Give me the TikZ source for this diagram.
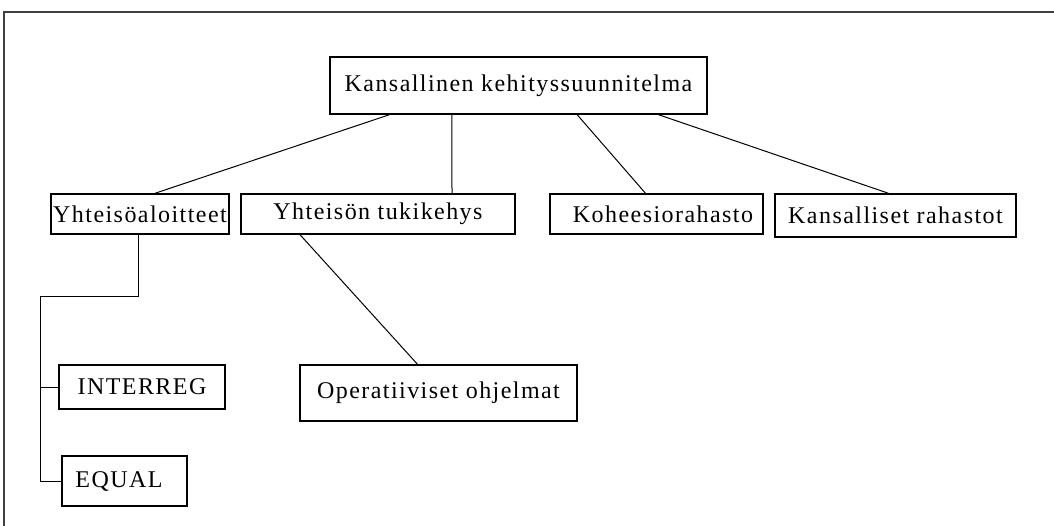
\documentclass[tikz,border=0pt]{standalone}
\usepackage{fontspec}
\setmainfont[LetterSpace=6]{Liberation Serif}
\usetikzlibrary{calc}

\begin{document}
\begin{tikzpicture}[x=1pt, y=-1pt,
        laatikko/.style={draw, line width=1.4pt, inner sep=0pt,
            font=\fontsize{24}{28}\selectfont},
        viiva/.style={line width=1pt}]
    \useasboundingbox (0,0) rectangle (1054,526);

    % kehys
    \draw[line width=2.4pt, black!75] (4,526) -- (4,12) -- (1054,12);

    % ylin taso
    \node[laatikko, minimum width=377pt, minimum height=57pt] (kehitys)
        at (518.5,85.5) {Kansallinen kehityssuunnitelma};

    % toinen taso
    \node[laatikko, minimum width=178pt, minimum height=40pt] (aloitteet)
        at (140,214) {Yhteisöaloitteet};
    \node[laatikko, minimum width=274pt, minimum height=40pt] (tukikehys)
        at (378,214) {Yhteisön tukikehys};
    \node[laatikko, minimum width=213pt, minimum height=40pt] (koheesio)
        at (656.5,214) {\hspace*{13pt}Koheesiorahasto};
    \node[laatikko, minimum width=241pt, minimum height=43pt] (rahastot)
        at (895.5,215.5) {Kansalliset rahastot};

    % kolmas taso
    \node[laatikko, minimum width=166pt, minimum height=44pt] (interreg)
        at (142,387) {INTERREG};
    \node[laatikko, minimum width=125pt, minimum height=50pt] (equal)
        at (124.5,481) {EQUAL\hspace*{11pt}};
    \node[laatikko, minimum width=277pt, minimum height=56pt] (ohjelmat)
        at (438.5,393) {Operatiiviset ohjelmat};

    % yhteydet ylhäältä
    \draw[viiva] ($(kehitys.south west)!0.159!(kehitys.south east)$)
        -- ([xshift=15pt]aloitteet.north);
    \draw[viiva] ($(kehitys.south west)!0.324!(kehitys.south east)$)
        -- ([xshift=74pt]tukikehys.north);
    \draw[viiva] ($(kehitys.south west)!0.655!(kehitys.south east)$)
        -- ([xshift=-11pt]koheesio.north);
    \draw[viiva] ($(kehitys.south west)!0.870!(kehitys.south east)$)
        -- ([xshift=-7pt]rahastot.north);

    % tukikehys -> ohjelmat
    \draw[viiva] ([xshift=-78pt]tukikehys.south) -- ([xshift=-21pt]ohjelmat.north);

    % yhteisöaloitteet -> alaohjelmat
    \coordinate (haara) at (40,297);
    \draw[viiva] ([xshift=-2pt]aloitteet.south) |- (haara)
        -- (haara |- equal.west) -- (equal.west);
    \draw[viiva] (haara |- interreg.west) -- (interreg.west);
\end{tikzpicture}
\end{document}
